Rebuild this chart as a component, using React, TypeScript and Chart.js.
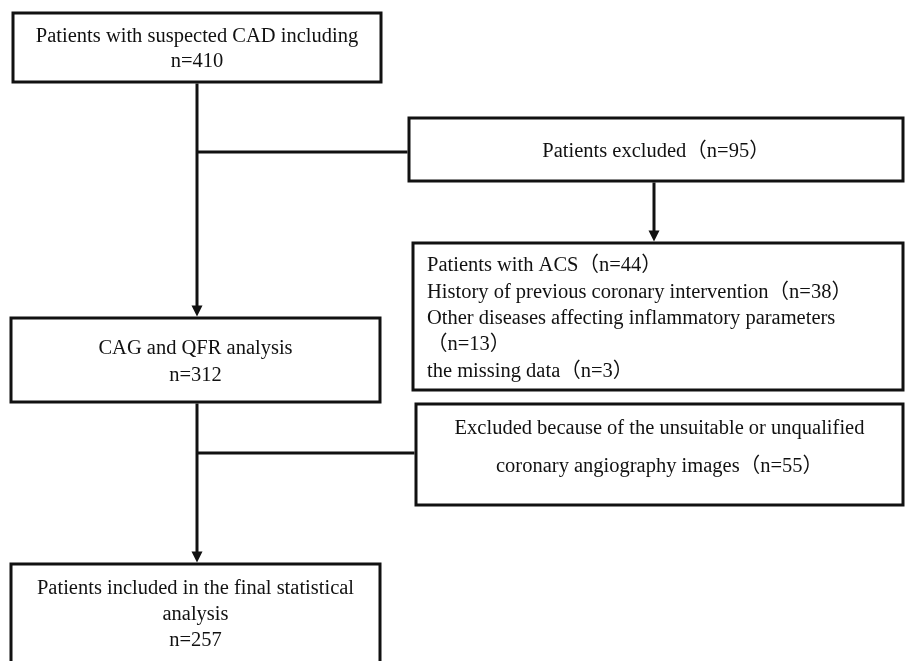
import React, { useEffect, useRef } from "react";
import { Chart, registerables } from "chart.js";

Chart.register(...registerables);

// ---- data ----
const STAGE_LABELS = [
  "Patients with suspected CAD including",
  "CAG and QFR analysis",
  "Patients included in the final statistical analysis",
];
const STAGE_COUNTS = [410, 312, 257];
const EXCLUDED_LABEL = "Patients excluded";
const EXCLUDED_TOTAL = 95;
const EXCLUSION_REASONS = [
  "Patients with ACS",
  "History of previous coronary intervention",
  "Other diseases affecting inflammatory parameters",
  "the missing data",
];
const EXCLUSION_COUNTS = [44, 38, 13, 3];
const IMAGE_EXCLUSION_LABEL =
  "Excluded because of the unsuitable or unqualified coronary angiography images";
const IMAGE_EXCLUSION_COUNT = 55;

// ---- layout (in scale units) ----
type Box = {
  x0: number; x1: number; y0: number; y1: number;
  textY: number; lineH: number; wrap: number; align: "center" | "left"; textX?: number;
};
const BOX_START: Box = { x0: 13, x1: 381, y0: 13, y1: 82, textY: 37, lineH: 25, wrap: 345, align: "center" };
const BOX_EXCLUDED: Box = { x0: 409, x1: 903, y0: 118, y1: 181, textY: 152, lineH: 26, wrap: 460, align: "center" };
const BOX_REASONS: Box = { x0: 413, x1: 903, y0: 243, y1: 390, textY: 266, lineH: 26.3, wrap: 445, align: "left", textX: 427 };
const BOX_ANALYSIS: Box = { x0: 11, x1: 380, y0: 318, y1: 402, textY: 349, lineH: 27, wrap: 345, align: "center" };
const BOX_IMG: Box = { x0: 416, x1: 903, y0: 404, y1: 505, textY: 429, lineH: 38, wrap: 440, align: "center" };
const BOX_FINAL: Box = { x0: 11, x1: 380, y0: 564, y1: 664, textY: 589, lineH: 26, wrap: 345, align: "center" };

const MAIN_X = 197;
const SIDE_X = 654;
const BRANCH1_Y = 152;
const BRANCH2_Y = 453;

const FONT = '20.5px "Liberation Serif", "Noto Sans CJK SC", serif';
const INK = "#111111";

type Token = { s: string; sep: string };
function tokens(label: string, count?: number): Token[] {
  const out: Token[] = label.split(" ").map((s, i) => ({ s, sep: i === 0 ? "" : " " }));
  if (count !== undefined) out.push({ s: `（n=${count}）`, sep: "" });
  return out;
}
function wrap(ctx: CanvasRenderingContext2D, toks: Token[], maxW: number): string[] {
  const lines: string[] = [];
  let line = "";
  toks.forEach((t, i) => {
    if (i === 0) { line = t.s; return; }
    const cand = line + t.sep + t.s;
    if (ctx.measureText(cand).width > maxW) { lines.push(line); line = t.s; }
    else line = cand;
  });
  if (line) lines.push(line);
  return lines;
}

const flowPlugin = {
  id: "flow",
  beforeDraw(chart: any) {
    const { ctx, width, height } = chart;
    ctx.save();
    ctx.fillStyle = "#ffffff";
    ctx.fillRect(0, 0, width, height);
    ctx.restore();
  },
  afterDraw(chart: any) {
    const ctx: CanvasRenderingContext2D = chart.ctx;
    const xs = chart.scales.x;
    const ys = chart.scales.y;
    const px = (v: number) => xs.getPixelForValue(v);
    const py = (v: number) => ys.getPixelForValue(v);

    ctx.save();
    ctx.strokeStyle = INK;
    ctx.fillStyle = INK;
    ctx.lineWidth = 3;
    ctx.font = FONT;
    ctx.textBaseline = "middle";

    const drawBox = (b: Box, lines: string[][]) => {
      ctx.strokeRect(px(b.x0), py(b.y0), px(b.x1) - px(b.x0), py(b.y1) - py(b.y0));
      let y = b.textY;
      lines.forEach((group) => {
        group.forEach((l) => {
          if (b.align === "center") {
            ctx.textAlign = "center";
            ctx.fillText(l, px((b.x0 + b.x1) / 2), py(y));
          } else {
            ctx.textAlign = "left";
            ctx.fillText(l, px(b.textX ?? b.x0 + 14), py(y));
          }
          y += b.lineH;
        });
      });
    };

    const line = (x0: number, y0: number, x1: number, y1: number) => {
      ctx.beginPath();
      ctx.moveTo(px(x0), py(y0));
      ctx.lineTo(px(x1), py(y1));
      ctx.stroke();
    };
    const arrowDown = (x: number, y0: number, yTip: number) => {
      const head = 11;
      line(x, y0, x, yTip - head + 1);
      ctx.beginPath();
      ctx.moveTo(px(x) - 5.5, py(yTip) - head);
      ctx.lineTo(px(x) + 5.5, py(yTip) - head);
      ctx.lineTo(px(x), py(yTip));
      ctx.closePath();
      ctx.fill();
    };

    // boxes
    drawBox(BOX_START, [wrap(ctx, tokens(STAGE_LABELS[0]), BOX_START.wrap), [`n=${STAGE_COUNTS[0]}`]]);
    drawBox(BOX_ANALYSIS, [wrap(ctx, tokens(STAGE_LABELS[1]), BOX_ANALYSIS.wrap), [`n=${STAGE_COUNTS[1]}`]]);
    drawBox(BOX_FINAL, [wrap(ctx, tokens(STAGE_LABELS[2]), BOX_FINAL.wrap), [`n=${STAGE_COUNTS[2]}`]]);
    drawBox(BOX_EXCLUDED, [wrap(ctx, tokens(EXCLUDED_LABEL, EXCLUDED_TOTAL), BOX_EXCLUDED.wrap)]);
    drawBox(
      BOX_REASONS,
      EXCLUSION_REASONS.map((r, i) => wrap(ctx, tokens(r, EXCLUSION_COUNTS[i]), BOX_REASONS.wrap))
    );
    drawBox(BOX_IMG, [wrap(ctx, tokens(IMAGE_EXCLUSION_LABEL, IMAGE_EXCLUSION_COUNT), BOX_IMG.wrap)]);

    // connectors
    arrowDown(MAIN_X, BOX_START.y1 + 1.5, BOX_ANALYSIS.y0 - 1.5);
    line(MAIN_X, BRANCH1_Y, BOX_EXCLUDED.x0 - 1.5, BRANCH1_Y);
    arrowDown(SIDE_X, BOX_EXCLUDED.y1 + 1.5, BOX_REASONS.y0 - 1.5);
    arrowDown(MAIN_X, BOX_ANALYSIS.y1 + 1.5, BOX_FINAL.y0 - 1.5);
    line(MAIN_X, BRANCH2_Y, BOX_IMG.x0 - 1.5, BRANCH2_Y);

    ctx.restore();
  },
};

export default function App() {
  const ref = useRef<HTMLCanvasElement | null>(null);
  useEffect(() => {
    if (!ref.current) return;
    const chart = new Chart(ref.current, {
      type: "scatter",
      data: { datasets: [{ data: [], pointRadius: 0 }] },
      options: {
        responsive: false,
        animation: false,
        events: [],
        layout: { padding: 0 },
        scales: {
          x: { type: "linear", min: 0, max: 905, display: false },
          y: { type: "linear", min: 0, max: 661, reverse: true, display: false },
        },
        plugins: { legend: { display: false }, tooltip: { enabled: false } },
      },
      plugins: [flowPlugin],
    });
    return () => chart.destroy();
  }, []);
  return (
    <div style={{ position: "fixed", left: 0, top: 0, width: 905, height: 661, background: "#fff" }}>
      <canvas ref={ref} width={905} height={661} style={{ display: "block" }} />
    </div>
  );
}
